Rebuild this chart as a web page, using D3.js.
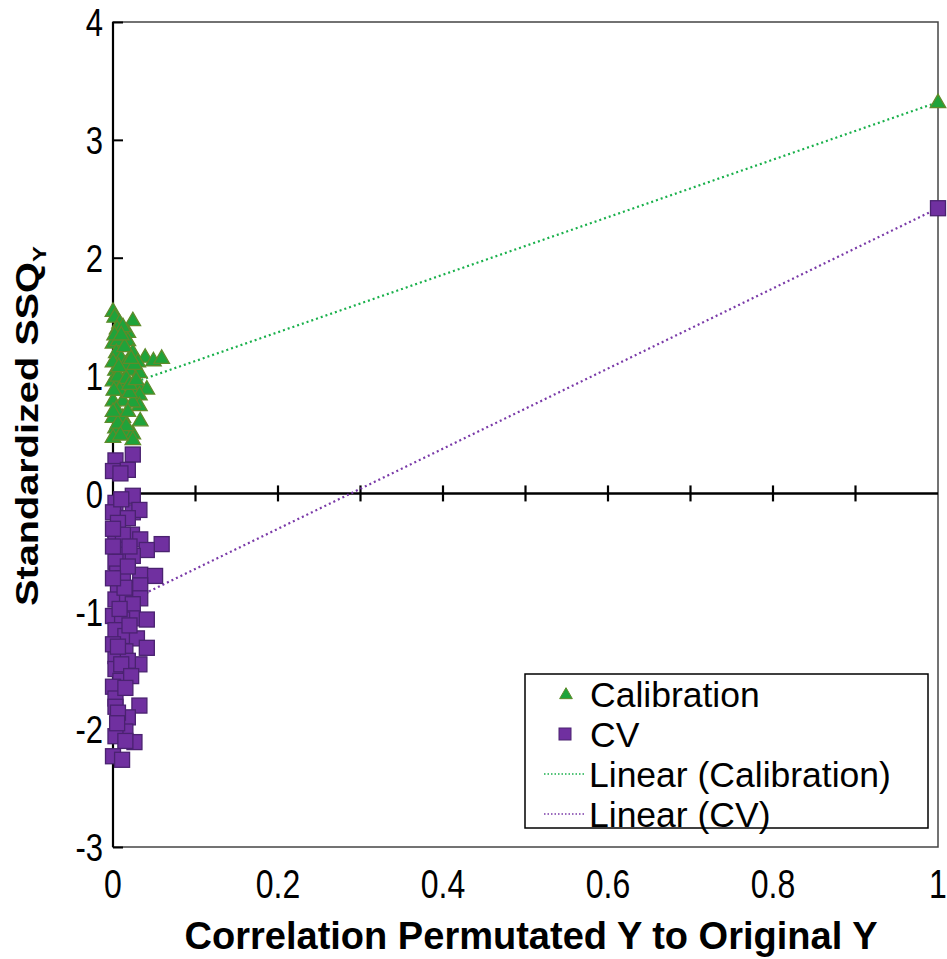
<!DOCTYPE html>
<html><head><meta charset="utf-8">
<script src="https://cdn.jsdelivr.net/npm/d3@7"></script>
<style>body{margin:0;background:#fff}svg{display:block}</style>
</head><body>
<script>
// ---- data ----
const calX = [0.000,0.002,0.008,0.024,0.005,0.018,0.012,0.000,0.006,0.018,0.024,0.039,0.049,0.059,0.030,0.020,0.032,0.003,0.000,0.012,0.032,0.041,0.032,0.000,0.012,0.032,0.024,0.000,0.012,0.033,0.003,0.012,0.024,0.000,0.024,0.004,0.010,0.015,0.006,0.016,0.008,0.020,0.004,0.018,0.006,0.016,0.002,0.014,0.026,0.009,0.020,0.028,0.000,0.001,0.000,0.010,0.022,0.007,1.000];
const calY = [1.55,1.50,1.45,1.47,1.40,1.37,1.42,1.28,1.30,1.30,1.20,1.16,1.13,1.15,1.12,1.05,1.03,1.05,0.96,0.94,0.90,0.89,0.84,0.79,0.79,0.75,0.78,0.65,0.65,0.62,0.56,0.54,0.51,0.48,0.46,1.20,1.15,1.10,1.00,0.98,0.88,0.86,0.72,0.70,0.60,0.58,1.35,1.25,1.10,0.50,0.93,0.97,1.12,0.88,0.70,1.35,1.15,1.08,3.32];
const cvX = [0.024,0.003,0.000,0.018,0.009,0.024,0.003,0.000,0.024,0.032,0.018,0.003,0.023,0.033,0.059,0.041,0.003,0.009,0.024,0.003,0.033,0.051,0.005,0.012,0.033,0.006,0.003,0.017,0.033,0.024,0.000,0.024,0.041,0.011,0.003,0.015,0.029,0.041,0.015,0.003,0.032,0.018,0.003,0.009,0.000,0.003,0.032,0.003,0.018,0.006,0.015,0.003,0.026,0.015,0.000,0.011,0.006,0.012,0.000,0.018,0.008,0.020,0.000,0.010,0.022,0.006,0.014,0.000,0.020,0.010,0.000,0.015,0.005,1.000];
const cvY = [0.33,0.28,0.19,0.20,0.17,-0.02,-0.08,-0.16,-0.16,-0.14,-0.21,-0.31,-0.35,-0.39,-0.43,-0.48,-0.42,-0.52,-0.53,-0.58,-0.69,-0.70,-0.68,-0.72,-0.78,-0.82,-0.90,-0.90,-0.89,-0.94,-1.04,-1.06,-1.07,-1.07,-1.16,-1.21,-1.23,-1.31,-1.34,-1.38,-1.45,-1.42,-1.49,-1.59,-1.64,-1.74,-1.80,-1.81,-1.90,-1.86,-2.02,-2.06,-2.11,-2.10,-2.23,-2.26,-0.25,-0.35,-0.45,-0.62,-0.98,-1.12,-1.28,-1.45,-1.55,-1.30,-0.80,-0.72,-0.45,-0.05,-0.30,-1.65,-1.95,2.42];
// trendline endpoints
const calTrendX = [0.0, 1.0];
const calTrendY = [0.88, 3.32];
const cvTrendX = [0.0, 1.0];
const cvTrendY = [-0.98, 2.42];
const xTicks = [0, 0.2, 0.4, 0.6, 0.8, 1];
const xMinorTicks = [0.1, 0.2, 0.3, 0.4, 0.5, 0.6, 0.7, 0.8, 0.9];
const yTicks = [-3, -2, -1, 0, 1, 2, 3, 4];
const legendLabels = ["Calibration", "CV", "Linear (Calibration)", "Linear (CV)"];

// ---- chart ----
const W = 947, H = 959;
const svg = d3.select("body").append("svg").attr("width", W).attr("height", H);
const L = 113, R = 938, T = 22, B = 847;
const x = d3.scaleLinear().domain([0, 1]).range([L, R]);
const y = d3.scaleLinear().domain([-3, 4]).range([B, T]);
const font = "'Liberation Sans', Arial, sans-serif";
const SY = 1.28; // vertical stretch of text seen in the reference
const green = "#1fa33a", greenStroke = "#5f8a2a", greenLine = "#19b04b";
const purple = "#7030a0", purpleStroke = "#4a2270", purpleLine = "#7a3aa8";

// plot area border
svg.append("rect").attr("x", L).attr("y", T).attr("width", R - L).attr("height", B - T)
  .attr("fill", "none").attr("stroke", "#444").attr("stroke-width", 1.5);

// y axis (inside ticks)
const yAxis = d3.axisRight(y).tickValues(yTicks).tickSize(10).tickFormat("");
const gy = svg.append("g").attr("transform", `translate(${L},0)`).call(yAxis);
gy.select(".domain").remove();
gy.selectAll(".tick line").attr("stroke", "#000").attr("stroke-width", 2);
svg.append("line").attr("x1", L).attr("x2", L).attr("y1", T).attr("y2", B).attr("stroke", "#000").attr("stroke-width", 2.2);
// y labels
svg.append("g").selectAll("text").data(yTicks).join("text")
  .attr("transform", d => `translate(103,${y(d)}) scale(1,${SY})`).attr("dy", "0.36em")
  .attr("text-anchor", "end").attr("font-family", font).attr("font-size", 31)
  .text(d => d);

// x axis at y=0 with crossing ticks
svg.append("line").attr("x1", L).attr("x2", R).attr("y1", y(0)).attr("y2", y(0)).attr("stroke", "#000").attr("stroke-width", 2.5);
svg.append("g").selectAll("line").data(xMinorTicks).join("line")
  .attr("x1", d => x(d)).attr("x2", d => x(d))
  .attr("y1", y(0) - 8).attr("y2", y(0) + 8)
  .attr("stroke", "#000").attr("stroke-width", 2.2);
// x labels at bottom
svg.append("g").selectAll("text").data(xTicks).join("text")
  .attr("transform", d => `translate(${x(d)},883) scale(1,${SY})`).attr("dy", "0.36em")
  .attr("text-anchor", "middle").attr("font-family", font).attr("font-size", 32)
  .text(d => d);

// trendlines
function trend(xs, ys, col) {
  svg.append("line").attr("x1", x(xs[0])).attr("y1", y(ys[0])).attr("x2", x(xs[1])).attr("y2", y(ys[1]))
    .attr("stroke", col).attr("stroke-width", 2.2).attr("stroke-dasharray", "2 3");
}
trend(calTrendX, calTrendY, greenLine);
trend(cvTrendX, cvTrendY, purpleLine);

// points
const tri = d3.symbol().type(d3.symbolTriangle).size(105);
svg.append("g").selectAll("rect").data(cvX.map((d, i) => [d, cvY[i]])).join("rect")
  .attr("x", d => x(d[0]) - 7.5).attr("y", d => y(d[1]) - 7.5).attr("width", 15).attr("height", 15)
  .attr("fill", purple).attr("stroke", purpleStroke).attr("stroke-width", 1.3);
svg.append("g").selectAll("path").data(calX.map((d, i) => [d, calY[i]])).join("path")
  .attr("d", tri).attr("transform", d => `translate(${x(d[0])},${y(d[1]) + 1})`)
  .attr("fill", green).attr("stroke", greenStroke).attr("stroke-width", 1.3);

// axis titles
svg.append("text").attr("transform", `translate(531,935) scale(1,${SY})`).attr("dy", "0.36em")
  .attr("text-anchor", "middle")
  .attr("font-family", font).attr("font-weight", "bold").attr("font-size", 31)
  .attr("textLength", 693).attr("lengthAdjust", "spacingAndGlyphs")
  .text("Correlation Permutated Y to Original Y");
const yt = svg.append("text").attr("transform", `translate(27,426) rotate(-90) scale(1,${1 / SY})`)
  .attr("dy", "0.36em").attr("text-anchor", "middle")
  .attr("font-family", font).attr("font-weight", "bold").attr("font-size", 31 * SY);
yt.append("tspan").text("Standardized SSQ");
yt.append("tspan").attr("font-size", 24).attr("dy", 10).text("Y");

// legend
const lg = svg.append("g");
lg.append("rect").attr("x", 525).attr("y", 674).attr("width", 403).attr("height", 154)
  .attr("fill", "#fff").attr("stroke", "#000").attr("stroke-width", 1.5);
const rows = [694, 734, 774, 814];
lg.selectAll("text").data(legendLabels).join("text")
  .attr("x", (d, i) => i < 2 ? 590 : 589).attr("y", (d, i) => rows[i]).attr("dy", "0.36em")
  .attr("font-family", font).attr("font-size", 35.5).text(d => d);
lg.append("path").attr("d", d3.symbol().type(d3.symbolTriangle).size(70))
  .attr("transform", `translate(566,${rows[0] + 1})`).attr("fill", green).attr("stroke", greenStroke).attr("stroke-width", 1);
lg.append("rect").attr("x", 559).attr("y", rows[1] - 6).attr("width", 12).attr("height", 12)
  .attr("fill", purple).attr("stroke", purpleStroke).attr("stroke-width", 1);
lg.append("line").attr("x1", 544).attr("x2", 586).attr("y1", rows[2]).attr("y2", rows[2])
  .attr("stroke", greenLine).attr("stroke-width", 1.5).attr("stroke-dasharray", "1.5 2");
lg.append("line").attr("x1", 544).attr("x2", 586).attr("y1", rows[3]).attr("y2", rows[3])
  .attr("stroke", purpleLine).attr("stroke-width", 1.5).attr("stroke-dasharray", "1.5 2");
</script>
</body></html>
